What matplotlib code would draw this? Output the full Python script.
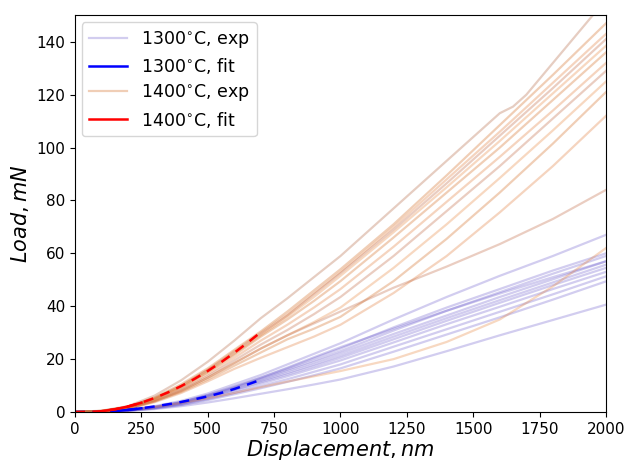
import matplotlib
matplotlib.use('Agg')
import matplotlib.pyplot as plt

# Displacement grid (nm) shared by most curves
disp = [0, 100, 200, 300, 400, 500, 600, 700, 800, 900, 1000, 1200, 1400, 1600, 1800, 2000]

# 1300 C experimental load curves (mN)
exp_1300 = [
    [0, 0.1, 0.8, 2.2, 4.2, 7.0, 10.5, 14.0, 18.0, 22.0, 26.0, 35.0, 43.5, 51.5, 59.0, 67.0],
    [0, 0.1, 0.7, 2.0, 3.8, 6.5, 9.7, 13.0, 16.5, 20.3, 24.0, 32.0, 39.5, 46.5, 53.5, 60.0],
    [0, 0.1, 0.7, 1.9, 3.6, 6.2, 9.3, 12.6, 16.0, 19.5, 23.0, 30.8, 38.3, 45.3, 52.3, 59.0],
    [0, 0.1, 0.6, 1.8, 3.5, 6.0, 9.0, 12.2, 15.5, 18.8, 22.2, 29.5, 36.5, 43.5, 50.2, 57.0],
    [0, 0.1, 0.6, 1.7, 3.3, 5.7, 8.6, 11.7, 14.8, 18.0, 21.3, 28.5, 35.5, 42.3, 49.0, 55.7],
    [0, 0.1, 0.6, 1.6, 3.2, 5.5, 8.3, 11.3, 14.2, 17.3, 20.5, 27.5, 34.5, 41.3, 48.0, 54.5],
    [0, 0.1, 0.5, 1.5, 3.0, 5.2, 7.8, 10.7, 13.5, 16.5, 19.5, 26.3, 33.2, 39.8, 46.5, 53.0],
    [0, 0.1, 0.5, 1.4, 2.8, 4.8, 7.2, 9.8, 12.4, 15.2, 18.0, 24.7, 31.3, 37.9, 44.5, 51.3],
    [0, 0.1, 0.4, 1.3, 2.6, 4.5, 6.7, 9.0, 11.4, 13.9, 16.5, 22.8, 29.3, 35.8, 42.5, 49.4],
    [0, 0.1, 0.4, 1.1, 2.2, 3.6, 5.2, 6.9, 8.6, 10.4, 12.3, 17.2, 23.0, 29.0, 34.8, 40.6],
    [0, 0.1, 0.7, 1.9, 3.7, 6.3, 9.5, 13.0, 16.8, 20.7, 24.5, 31.5, 38.3, 44.8, 51.0, 57.0],
]

# 1400 C experimental load curves (mN)
exp_1400 = [
    [0, 0.4, 2.0, 5.5, 10.5, 16.5, 23.5, 30.5, 38.0, 46.0, 54.0, 71.0, 89.5, 108.5, 127.5, 147.0],
    [0, 0.4, 1.9, 5.3, 10.0, 16.0, 23.0, 30.0, 37.0, 45.0, 53.0, 70.0, 88.0, 106.0, 124.5, 143.0],
    [0, 0.4, 1.9, 5.2, 9.8, 15.8, 22.5, 29.5, 36.5, 44.5, 52.5, 69.0, 86.5, 104.5, 122.5, 141.0],
    [0, 0.3, 1.8, 5.0, 9.5, 15.3, 22.0, 29.0, 36.0, 43.5, 51.5, 68.0, 85.0, 102.5, 120.5, 138.5],
    [0, 0.3, 1.7, 4.8, 9.2, 15.0, 21.5, 28.5, 35.0, 42.0, 49.5, 66.0, 83.0, 100.0, 118.0, 136.0],
    [0, 0.3, 1.6, 4.6, 8.8, 14.3, 20.5, 27.0, 33.0, 39.5, 46.5, 62.5, 79.5, 96.5, 114.0, 132.0],
    [0, 0.3, 1.5, 4.4, 8.4, 13.6, 19.5, 25.5, 31.0, 37.0, 43.5, 59.0, 76.0, 93.0, 111.0, 129.0],
    [0, 0.3, 1.4, 4.2, 8.0, 13.0, 18.5, 24.0, 29.0, 34.0, 39.5, 54.5, 71.0, 88.5, 106.5, 125.0],
    [0, 0.2, 1.3, 4.0, 7.6, 12.3, 17.5, 22.5, 27.5, 31.5, 36.0, 49.5, 65.5, 83.0, 101.5, 121.0],
    [0, 0.2, 1.2, 3.7, 7.2, 11.6, 16.3, 20.5, 24.5, 28.5, 33.0, 45.0, 59.0, 75.5, 93.0, 112.0],
    [0, 0.2, 1.3, 4.0, 8.0, 13.0, 18.5, 24.0, 29.0, 33.5, 38.0, 47.0, 55.0, 63.5, 73.0, 84.0],
    [0, 0.1, 0.7, 1.9, 3.4, 5.2, 7.2, 9.4, 11.5, 13.5, 15.5, 20.0, 26.5, 35.0, 47.5, 62.0],
]

# top 1400 C curve has a small kink, so it gets its own grid
disp_top = [0, 100, 200, 300, 400, 500, 600, 700, 800, 900, 1000, 1200, 1400, 1600, 1650, 1700, 1800, 2000]
load_top = [0, 0.5, 2.2, 6.2, 12.0, 19.0, 27.0, 35.5, 43.0, 51.0, 59.0, 77.0, 95.0, 113.0, 115.5, 120.0, 132.0, 156.0]

# fits
fit_disp = [0, 50, 100, 150, 200, 250, 300, 350, 400, 450, 500, 550, 600, 650, 700]
fit_1300 = [0, 0, 0, 0.3, 0.8, 1.4, 2.1, 2.9, 3.8, 4.8, 5.9, 7.2, 8.7, 10.4, 12.2]
fit_1400 = [0, 0, 0.3, 1.0, 2.1, 3.5, 5.3, 7.4, 9.8, 12.5, 15.5, 18.8, 22.4, 26.2, 30.2]

orange_shades = ['#d2691e', '#e07b39', '#c0653f', '#e8863f']

fig = plt.figure(figsize=(6.26, 4.61), dpi=100)
ax = fig.add_axes([0.1198, 0.1063, 0.8482, 0.8603])

for i, y in enumerate(exp_1300):
    ax.plot(disp, y, color='slateblue', alpha=0.3, lw=1.6,
            label='1300$^{\\circ}$C, exp' if i == 0 else None)

ax.plot(fit_disp, fit_1300, color='blue', lw=1.8, label='1300$^{\\circ}$C, fit')
ax.lines[-1].set_visible(False)

for i, y in enumerate(exp_1400):
    ax.plot(disp, y, color=orange_shades[i % 4], alpha=0.32, lw=1.6,
            label='1400$^{\\circ}$C, exp' if i == 0 else None)
ax.plot(disp_top, load_top, color='#b8704f', alpha=0.35, lw=1.6)

ax.plot(fit_disp, fit_1400, color='red', lw=1.8, label='1400$^{\\circ}$C, fit')
ax.lines[-1].set_visible(False)

# fits: solid over fitted range, dashed extrapolation
ax.plot(fit_disp, fit_1300, color='blue', lw=1.8, ls='--', dashes=(4, 3))
ax.plot(fit_disp[3:6], fit_1300[3:6], color='blue', lw=1.8)
ax.plot(fit_disp, fit_1400, color='red', lw=1.8, ls='--', dashes=(4, 3))
ax.plot(fit_disp[2:6], fit_1400[2:6], color='red', lw=1.8)

ax.set_xlim(0, 2000)
ax.set_ylim(0, 150)
ax.set_yticks(range(0, 141, 20))
ax.tick_params(labelsize=11)
ax.set_xlabel('$Displacement, nm$', fontsize=15, labelpad=1)
ax.set_ylabel('$Load, mN$', fontsize=15)

leg = ax.legend(loc='upper left', fontsize=12.5, handlelength=2.2,
                labelspacing=0.35, borderaxespad=0.4)
for h in leg.get_lines():
    h.set_visible(True)

fig.savefig('out.png', dpi=100)
